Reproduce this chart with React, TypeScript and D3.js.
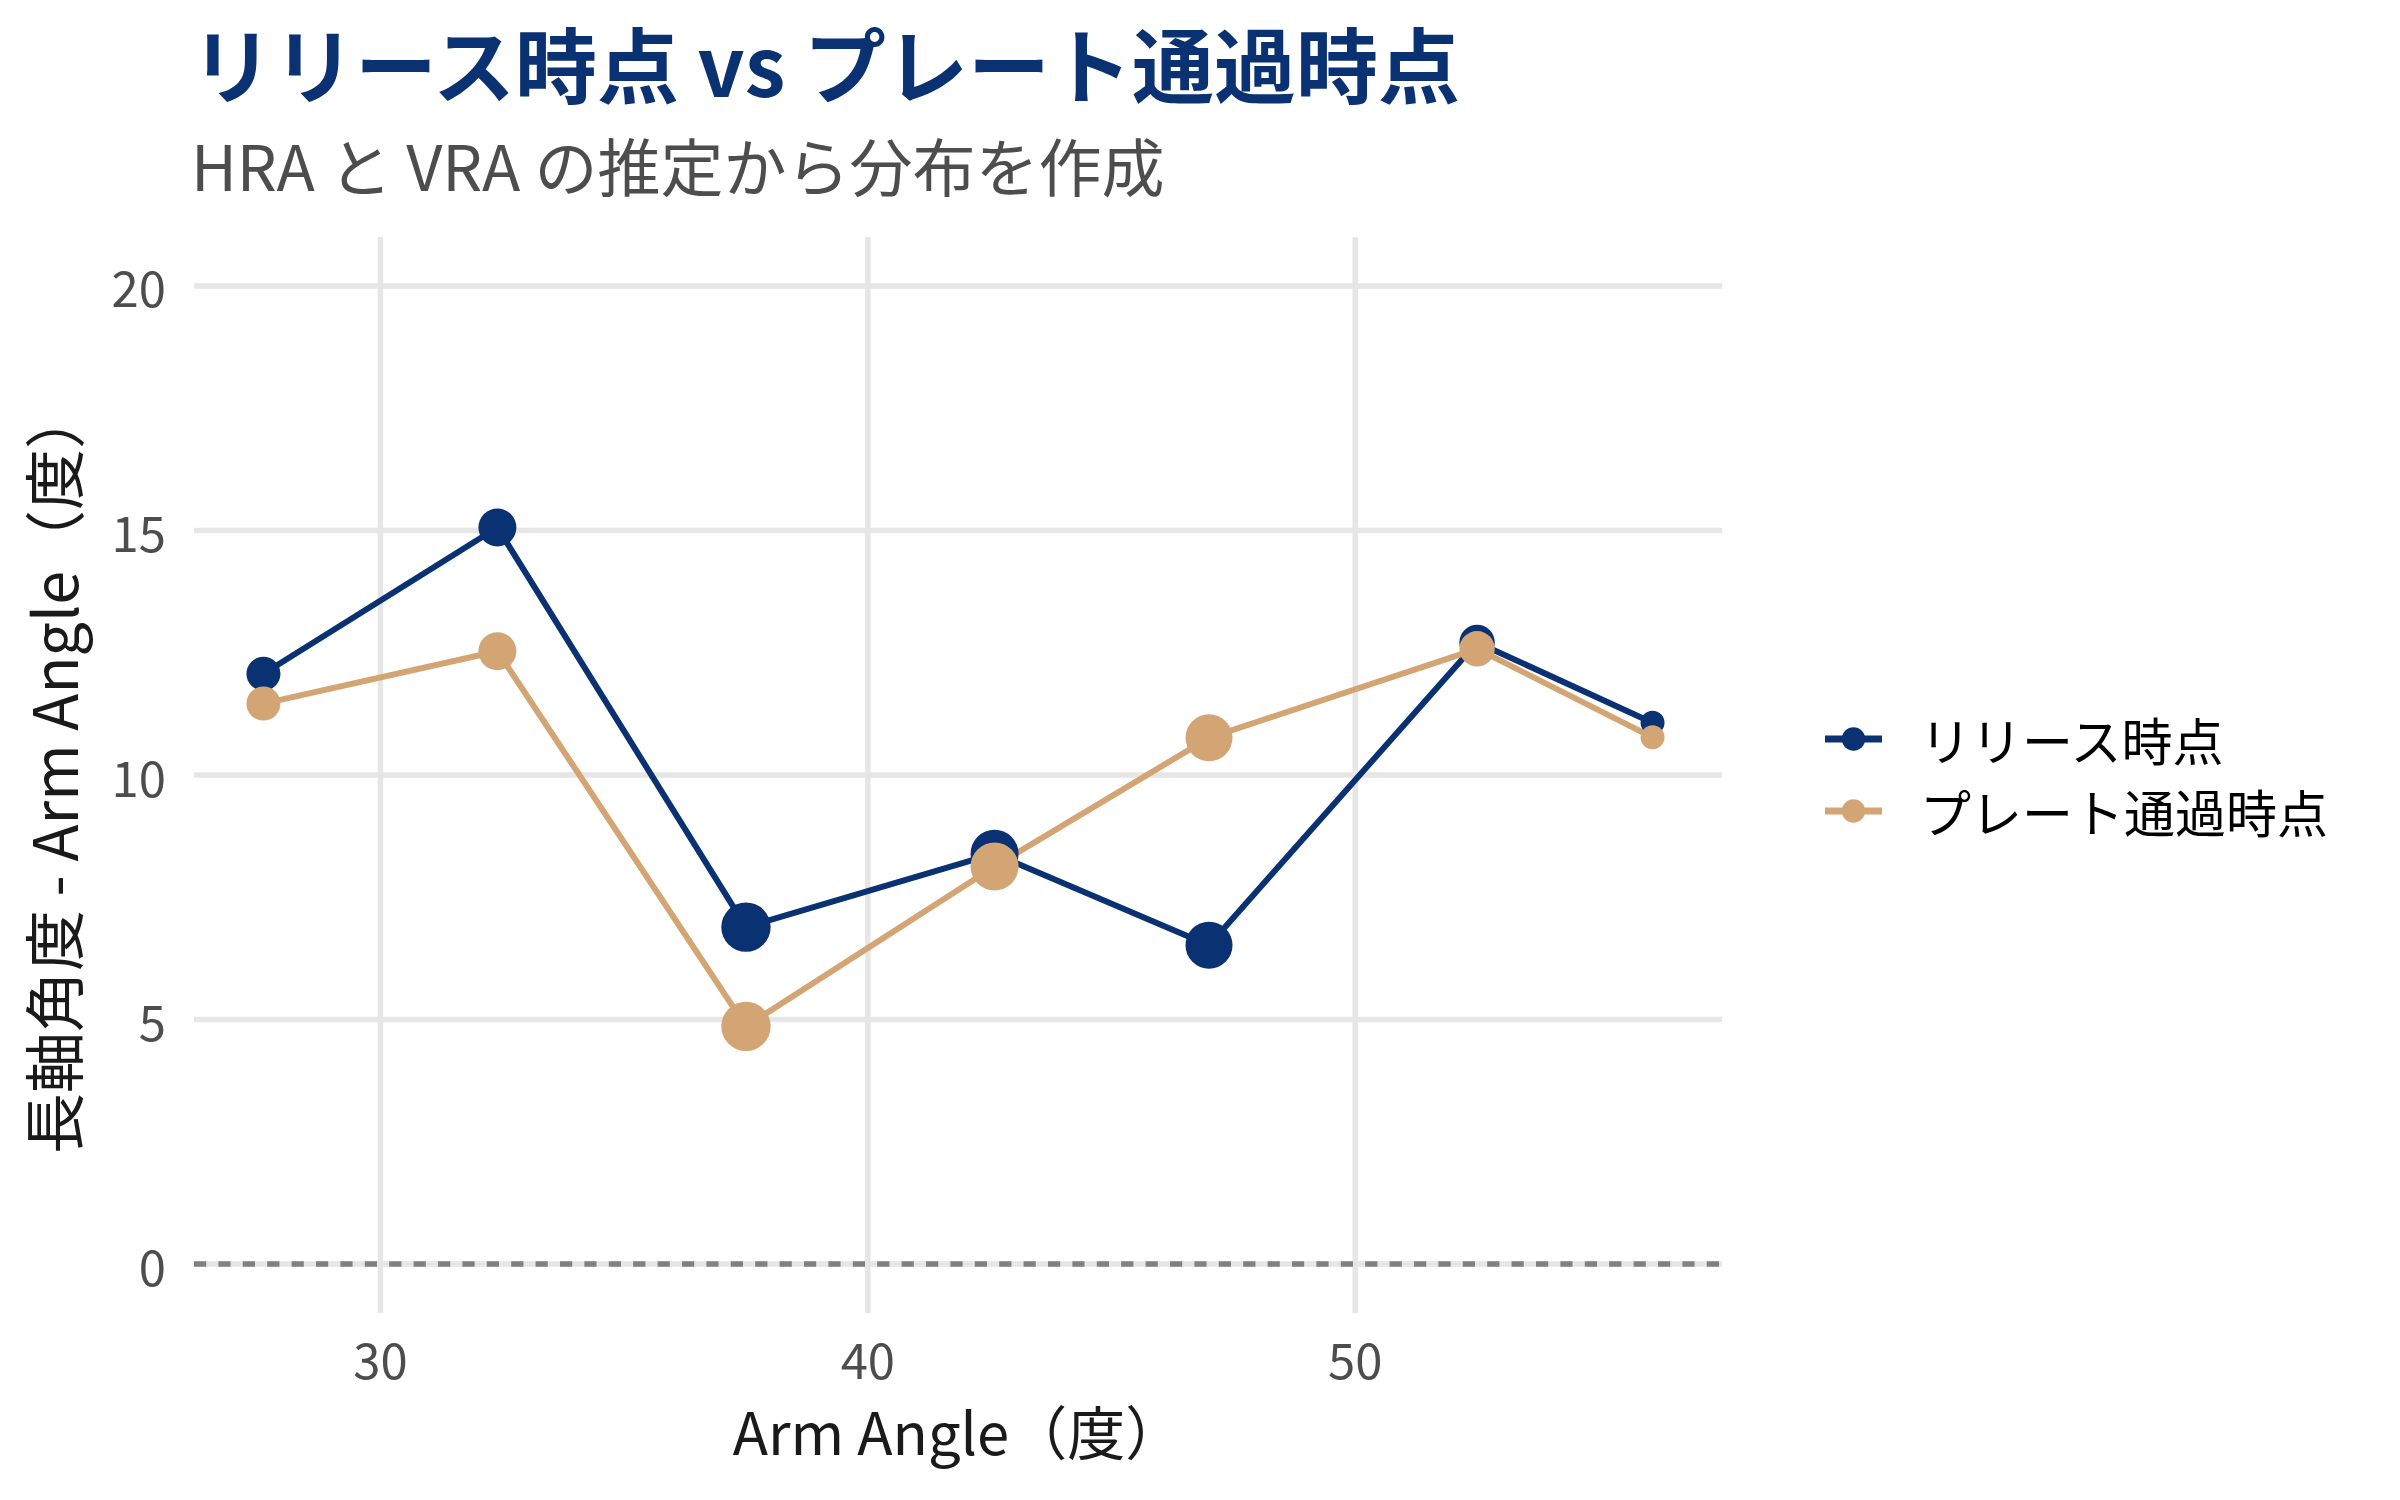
import * as d3 from "d3";

const armAngles = [27.6, 32.4, 37.5, 42.6, 47.0, 52.5, 56.1];
const releaseValues = [12.07, 15.06, 6.89, 8.39, 6.52, 12.71, 11.07];
const plateValues = [11.46, 12.53, 4.86, 8.13, 10.76, 12.58, 10.77];
const pitchCounts = [95, 118, 200, 189, 181, 103, 47];
const seriesNames = ["リリース時点", "プレート通過時点"];
const xTicks = [30, 40, 50];
const yTicks = [0, 5, 10, 15, 20];

const W = 2400;
const H = 1500;
const FONT = '"Noto Sans CJK JP", "Noto Sans", sans-serif';
const NAVY = "#0a3172";
const TAN = "#d3a574";
const colors = [NAVY, TAN];

const panel = { left: 194, right: 1722, top: 237, bottom: 1313 };

export default function App() {
  const [xMin, xMax] = d3.extent(armAngles) as [number, number];
  const xPad = (xMax - xMin) * 0.05;
  const x = d3
    .scaleLinear()
    .domain([xMin - xPad, xMax + xPad])
    .range([panel.left, panel.right]);

  const y = d3.scaleLinear().domain([-1, 21]).range([panel.bottom, panel.top]);

  const r = d3
    .scaleSqrt()
    .domain([0, d3.max(pitchCounts) || 1])
    .range([0, 24.7]);

  const series = [releaseValues, plateValues].map((vals, i) => ({
    name: seriesNames[i],
    color: colors[i],
    points: vals.map((v, j) => ({ x: armAngles[j], y: v, n: pitchCounts[j] })),
  }));

  const line = d3
    .line<{ x: number; y: number }>()
    .x((d) => x(d.x))
    .y((d) => y(d.y));

  const legendX = 1825;
  const legendY = [739, 811];

  return (
    <svg
      width={W}
      height={H}
      viewBox={`0 0 ${W} ${H}`}
      style={{ position: "absolute", left: 0, top: 0, background: "#fff" }}
      fontFamily={FONT}
    >
      <rect width={W} height={H} fill="#fff" />

      {/* Title */}
      <text x={191} y={96.5} fontSize={82} fontWeight={700} fill={NAVY}>
        リリース時点 vs プレート通過時点
      </text>
      <text x={191} y={191} fontSize={63} fill="#4d4d4d">
        HRA と VRA の推定から分布を作成
      </text>

      {/* Grid */}
      {yTicks.map((t) => (
        <line
          key={"gy" + t}
          x1={panel.left}
          x2={panel.right}
          y1={y(t)}
          y2={y(t)}
          stroke="#e6e6e6"
          strokeWidth={5.5}
        />
      ))}
      {xTicks.map((t) => (
        <line
          key={"gx" + t}
          x1={x(t)}
          x2={x(t)}
          y1={panel.top}
          y2={panel.bottom}
          stroke="#e6e6e6"
          strokeWidth={5.5}
        />
      ))}

      {/* Zero reference */}
      <line
        x1={panel.left}
        x2={panel.right}
        y1={y(0)}
        y2={y(0)}
        stroke="#808080"
        strokeWidth={5.5}
        strokeDasharray="12.2 12.2"
      />

      {/* Lines */}
      {series.map((s) => (
        <path
          key={"l" + s.name}
          d={line(s.points) || ""}
          fill="none"
          stroke={s.color}
          strokeWidth={6}
          strokeLinejoin="round"
        />
      ))}

      {/* Points */}
      {series.map((s) =>
        s.points.map((p, j) => (
          <circle
            key={s.name + j}
            cx={x(p.x)}
            cy={y(p.y)}
            r={r(p.n)}
            fill={s.color}
          />
        ))
      )}

      {/* Y axis labels */}
      {yTicks.map((t) => (
        <text
          key={"yl" + t}
          x={166}
          y={y(t)}
          fontSize={49}
          fill="#4d4d4d"
          textAnchor="end"
          dominantBaseline="central"
        >
          {t}
        </text>
      ))}

      {/* X axis labels */}
      {xTicks.map((t) => (
        <text
          key={"xl" + t}
          x={x(t)}
          y={1379}
          fontSize={49}
          fill="#4d4d4d"
          textAnchor="middle"
        >
          {t}
        </text>
      ))}

      {/* Axis titles */}
      <text
        x={(panel.left + panel.right) / 2}
        y={1455}
        fontSize={58}
        fill="#1a1a1a"
        textAnchor="middle"
      >
        Arm Angle（度）
      </text>
      <text
        transform={`translate(78, ${(panel.top + panel.bottom) / 2 - 4}) rotate(-90)`}
        fontSize={61}
        fill="#1a1a1a"
        textAnchor="middle"
      >
        長軸角度 - Arm Angle（度）
      </text>

      {/* Legend */}
      {series.map((s, i) => (
        <g key={"lg" + s.name} transform={`translate(${legendX}, ${legendY[i]})`}>
          <line x1={0} x2={57} y1={0} y2={0} stroke={s.color} strokeWidth={7} />
          <circle cx={28.5} cy={0} r={11.7} fill={s.color} />
          <text x={95} y={0} fontSize={51} fill="#000" dominantBaseline="central">
            {s.name}
          </text>
        </g>
      ))}
    </svg>
  );
}
